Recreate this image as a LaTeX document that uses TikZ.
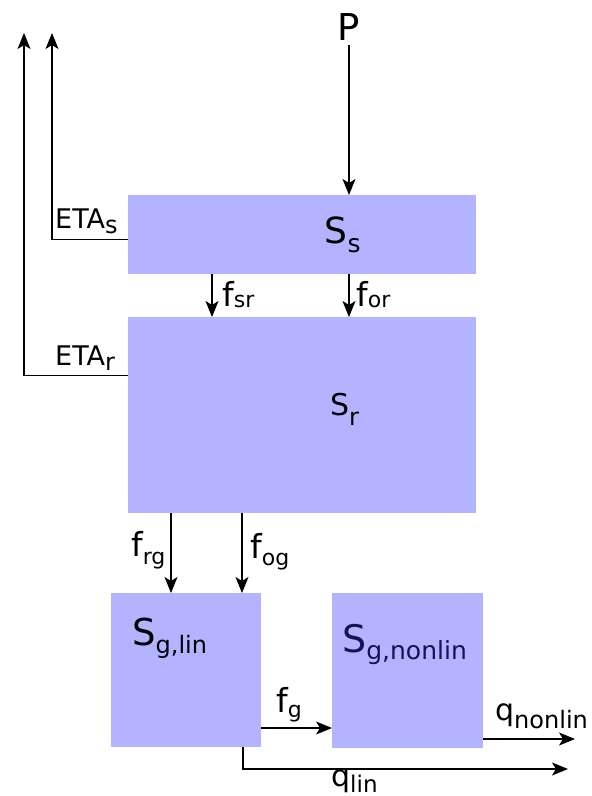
\documentclass[tikz,border=0pt]{standalone}
\usepackage{fontspec}
\setmainfont{DejaVu Sans}
\usetikzlibrary{arrows.meta}
\definecolor{storefill}{RGB}{179,179,255}
\definecolor{darklabel}{RGB}{20,20,85}
% main symbol with a lowered, smaller index:
% #1 main size, #2 main text, #3 index size, #4 index text, #5 drop
\newcommand\symsub[5]{{\fontsize{#1}{#1}\selectfont #2}\raisebox{-#5pt}{\fontsize{#3}{#3}\selectfont #4}}
\begin{document}
\begin{tikzpicture}[x=1pt,y=-1pt,
    store/.style={draw=none, fill=storefill, anchor=north west, inner sep=0pt},
    tip/.tip={Stealth[length=16pt,width=13pt,inset=4pt]},
    flow/.style={line width=1.4pt, -tip},
    thinflow/.style={line width=1.1pt, -tip},
    lab/.style={inner sep=0pt, anchor=base west}]
  \useasboundingbox (0,0) rectangle (592,796);

  % storage boxes
  \node[store, minimum width=348pt, minimum height=79pt]  (ss)   at (128,195) {};
  \node[store, minimum width=348pt, minimum height=196pt] (sr)   at (128,317) {};
  \node[store, minimum width=150pt, minimum height=154pt] (sgl)  at (111,593) {};
  \node[store, minimum width=151pt, minimum height=155pt] (sgnl) at (332,593) {};

  % box names
  \node[lab] (tss)   at (324.5,243) {\symsub{36}{S}{25}{s}{9}};
  \node[lab] (tsr)   at (330,415)   {\symsub{30}{S}{24}{r}{10}};
  \node[lab] (tsgl)  at (132,645)   {\symsub{37}{S}{24}{g,lin}{8}};
  \node[lab, text=darklabel] (tsgnl) at (342,652) {\symsub{38}{S}{25}{g,nonlin}{7}};

  % precipitation input
  \node[inner sep=0pt, anchor=base] (p) at (349,40) {\fontsize{37}{37}\selectfont P};
  \draw[flow] ([yshift=-5pt]p.south) -- (p.south |- ss.north);

  % evaporation outputs
  \coordinate (etasend) at (52,33);
  \coordinate (etarend) at (24,33);
  \draw[flow] ([yshift=-4.5pt]ss.west) -| (etasend);
  \draw[flow] ([yshift=40pt]sr.west) -| (etarend);
  \node[lab] (tetas) at (55,228) {\symsub{27}{ETA}{24}{s}{5}};
  \node[lab] (tetar) at (55,365) {\symsub{27}{ETA}{24}{r}{5}};

  % fluxes from snow to root zone
  \coordinate (xsr) at (212,0);
  \coordinate (xor) at (349,0);
  \draw[thinflow] (ss.south -| xsr) -- (sr.north -| xsr);
  \draw[thinflow] (ss.south -| xor) -- (sr.north -| xor);
  \node[lab] (tfsr) at (222,306) {\symsub{33}{f}{22}{sr}{1}};
  \node[lab] (tfor) at (356,306) {\symsub{33}{f}{22}{or}{1}};

  % fluxes from root zone to groundwater
  \coordinate (xrg) at (171,0);
  \coordinate (xog) at (242,0);
  \draw[thinflow] (sr.south -| xrg) -- (sgl.north -| xrg);
  \draw[thinflow] (sr.south -| xog) -- (sgl.north -| xog);
  \node[lab] (tfrg) at (131,556) {\symsub{33}{f}{22}{rg}{8}};
  \node[lab] (tfog) at (250,558) {\symsub{33}{f}{22}{og}{7}};

  % groundwater fluxes
  \coordinate (yfg) at (0,728);
  \draw[thinflow] (sgl.east |- yfg) -- (sgnl.west |- yfg);
  \node[lab] (tfg) at (276,712) {\symsub{33}{f}{22}{g}{5}};

  \coordinate (qnlend) at (575,739);
  \draw[thinflow] (sgnl.east |- qnlend) -- (qnlend);
  \node[lab] (tqnl) at (495,720) {\symsub{30}{q}{24}{nonlin}{8}};

  \coordinate (xql) at (243,0);
  \coordinate (qlend) at (568,769);
  \draw[thinflow] (sgl.south -| xql) |- (qlend);
  \node[lab] (tql) at (331,786) {\symsub{30}{q}{23}{lin}{6}};
\end{tikzpicture}
\end{document}
